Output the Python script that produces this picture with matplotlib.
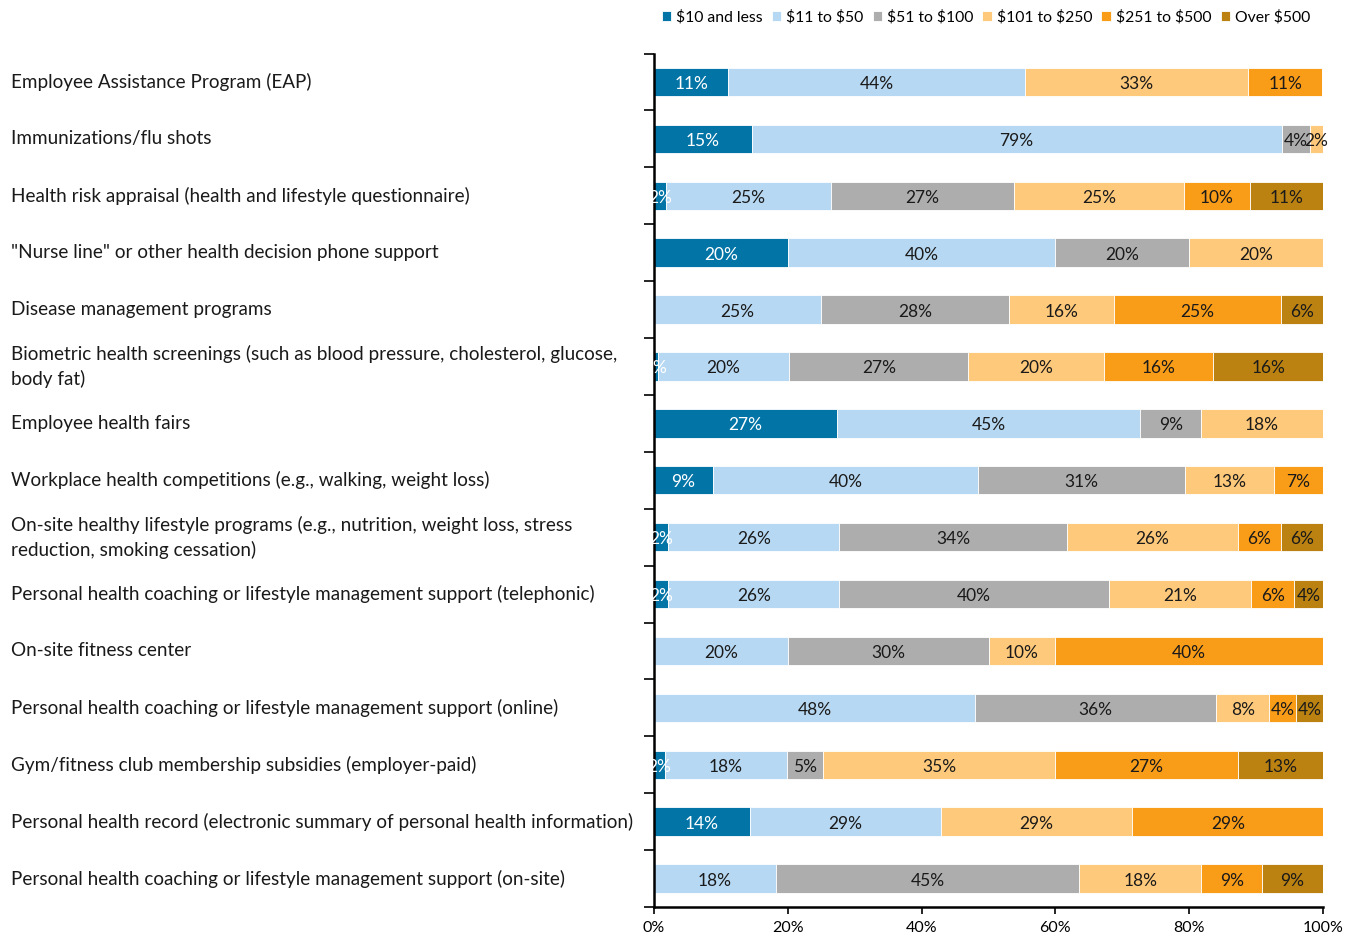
import numpy as np
import matplotlib
matplotlib.use("Agg")
import matplotlib.pyplot as plt
from matplotlib import transforms

plt.rcParams['font.family'] = ['Lato', 'DejaVu Sans']

# Programs, top to bottom
programs = [
    "Employee Assistance Program (EAP)",
    "Immunizations/flu shots",
    "Health risk appraisal (health and lifestyle questionnaire)",
    "\"Nurse line\" or other health decision phone support",
    "Disease management programs",
    "Biometric health screenings (such as blood pressure, cholesterol, glucose,\nbody fat)",
    "Employee health fairs",
    "Workplace health competitions (e.g., walking, weight loss)",
    "On-site healthy lifestyle programs (e.g., nutrition, weight loss, stress\nreduction, smoking cessation)",
    "Personal health coaching or lifestyle management support (telephonic)",
    "On-site fitness center",
    "Personal health coaching or lifestyle management support (online)",
    "Gym/fitness club membership subsidies (employer-paid)",
    "Personal health record (electronic summary of personal health information)",
    "Personal health coaching or lifestyle management support (on-site)",
]

cost_bands = [r"\$10 and less", r"\$11 to \$50", r"\$51 to \$100",
              r"\$101 to \$250", r"\$251 to \$500", r"Over \$500"]

# share of employers per cost band (percent), one list per band
ten_and_less = [11.1, 14.6, 1.8, 20.0, 0, 0.6, 27.3, 8.8, 2.1, 2.1, 0, 0, 1.6, 14.3, 0]
eleven_to_50 = [44.4, 79.2, 24.6, 40.0, 25.0, 19.6, 45.4, 39.6, 25.6, 25.6, 20.0, 48.0, 18.3, 28.6, 18.2]
fiftyone_to_100 = [0, 4.2, 27.4, 20.0, 28.1, 26.8, 9.1, 31.0, 34.0, 40.3, 30.0, 36.0, 5.4, 0, 45.4]
hundred_to_250 = [33.3, 2.1, 25.4, 20.0, 15.6, 20.2, 18.2, 13.3, 25.6, 21.3, 10.0, 8.0, 34.6, 28.6, 18.2]
two51_to_500 = [11.1, 0, 9.9, 0, 25.0, 16.4, 0, 7.3, 6.4, 6.4, 40.0, 4.0, 27.4, 28.6, 9.1]
over_500 = [0, 0, 10.9, 0, 6.3, 16.4, 0, 0, 6.3, 4.3, 0, 4.0, 12.7, 0, 9.1]

series = [ten_and_less, eleven_to_50, fiftyone_to_100,
          hundred_to_250, two51_to_500, over_500]
colors = ["#0274a6", "#b7d8f2", "#adadad", "#fec97a", "#f99c17", "#bb8211"]
text_colors = ["white", "#1a1a1a", "#1a1a1a", "#1a1a1a", "#1a1a1a", "#1a1a1a"]

fig = plt.figure(figsize=(13.57, 9.34), dpi=100)
ax = fig.add_axes([654 / 1357, 1 - 907 / 934, 669 / 1357, (907 - 53.5) / 934])

# value labels sit a touch below the bar centre line
label_trans = transforms.offset_copy(ax.transData, fig=fig, y=-2, units="dots")

n = len(programs)
y = np.arange(n)
left = np.zeros(n)
for vals, col, tcol, name in zip(series, colors, text_colors, cost_bands):
    vals = np.array(vals, dtype=float)
    ax.barh(y, vals, left=left, height=0.5, color=col,
            edgecolor="white", linewidth=0.6, label=name)
    for yi, (l, v) in enumerate(zip(left, vals)):
        if v > 0:
            ax.text(l + v / 2, yi, f"{int(v + 0.5)}%", ha="center", va="center",
                    color=tcol, fontsize=12.5, transform=label_trans)
    left += vals

ax.set_xlim(0, 100)
ax.set_ylim(n - 0.5, -0.5)
ax.set_xticks(np.arange(0, 101, 20))
ax.set_xticklabels([f"{t}%" for t in range(0, 101, 20)], fontsize=11.5)
ax.tick_params(axis="x", length=5, width=1.2, pad=5)

# category boundaries carry the y tick marks
ax.set_yticks(np.arange(-0.5, n, 1.0))
ax.set_yticklabels([])
ax.tick_params(axis="y", length=7, width=1.2)

for side in ["top", "right"]:
    ax.spines[side].set_visible(False)
ax.spines["left"].set_linewidth(1.8)
ax.spines["bottom"].set_linewidth(1.8)

trans = transforms.blended_transform_factory(fig.transFigure, ax.transData)
for yi, label in enumerate(programs):
    ax.text(11 / 1357, yi, label, transform=trans, ha="left", va="center",
            fontsize=13.6, linespacing=1.45, color="#1a1a1a")

leg = fig.legend(loc="upper right", bbox_to_anchor=(1324 / 1357, 1 + 4 / 934),
                 ncol=6, frameon=False, fontsize=11.3, handlelength=0.6,
                 handleheight=0.6, handletextpad=0.3, columnspacing=0.6)

fig.savefig("out.png", dpi=100)
